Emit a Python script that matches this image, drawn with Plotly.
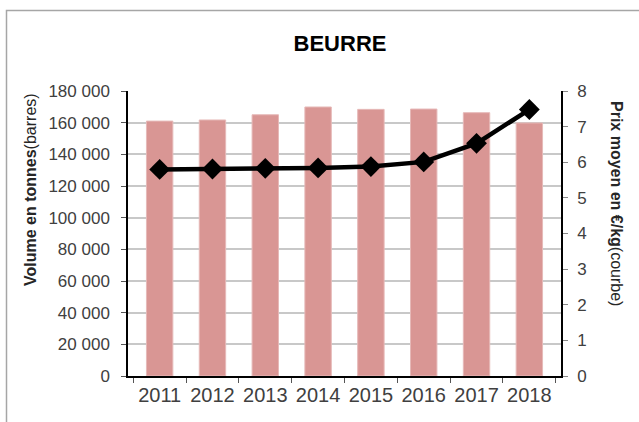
import plotly.graph_objects as go

years = ["2011", "2012", "2013", "2014", "2015", "2016", "2017", "2018"]
volume_tonnes = [161000, 161700, 165000, 169900, 168400, 168600, 166300, 159800]
prix_eur_kg = [5.80, 5.81, 5.83, 5.84, 5.88, 6.01, 6.53, 7.48]
y1_ticks = [0, 20000, 40000, 60000, 80000, 100000, 120000, 140000, 160000, 180000]
y1_labels = ["0", "20 000", "40 000", "60 000", "80 000", "100 000", "120 000", "140 000", "160 000", "180 000"]
y2_ticks = [0, 1, 2, 3, 4, 5, 6, 7, 8]

W, H = 639, 422
L, R, T, B = 128, 78, 91, 46
PW, PH = W - L - R, H - T - B

def px_x(p):
    return (p - L) / PW

def px_y(p):
    return (H - B - p) / PH

FONT = "Liberation Sans, Arial, sans-serif"

fig = go.Figure()
fig.add_trace(go.Bar(
    x=years, y=volume_tonnes, yaxis="y",
    marker=dict(color="#d99694", line=dict(color="#e6b9b8", width=1)),
    hoverinfo="x+y",
))
fig.add_trace(go.Scatter(
    x=years, y=prix_eur_kg, yaxis="y2", mode="lines+markers",
    line=dict(color="black", width=4.5),
    marker=dict(symbol="diamond", size=16, color="black"),
))

fig.update_layout(
    width=W, height=H,
    margin=dict(l=L, r=R, t=T, b=B, autoexpand=False),
    paper_bgcolor="white", plot_bgcolor="white",
    showlegend=False,
    bargap=0.5,
    font=dict(family=FONT, color="#404040"),
    title=dict(text="<b>BEURRE</b>", x=340 / W, xanchor="center", xref="container",
               y=1 - 43 / H, yanchor="middle", yref="container",
               font=dict(family=FONT, size=22, color="black")),
    xaxis=dict(
        showline=True, linecolor="black", linewidth=1.5,
        ticks="outside", ticklen=5, tickcolor="#555", tickson="boundaries",
        tickfont=dict(size=20, color="#404040"), tickangle=0,
        showgrid=False, automargin=False,
    ),
    yaxis=dict(
        range=[0, 180000], tickvals=y1_ticks, ticktext=y1_labels,
        showline=True, linecolor="black", linewidth=1.5,
        ticks="outside", ticklen=5, tickcolor="#555",
        tickfont=dict(size=17, color="#404040"),
        showgrid=True, gridcolor="#c8c8c8", gridwidth=1.5,
        zeroline=False, ticklabelstandoff=8, automargin=False,
    ),
    yaxis2=dict(
        range=[0, 8], tickvals=y2_ticks, overlaying="y", side="right",
        showline=True, linecolor="black", linewidth=1.5,
        ticks="outside", ticklen=5, tickcolor="#888",
        tickfont=dict(size=17, color="#404040"),
        showgrid=False, zeroline=False, ticklabelstandoff=6, automargin=False,
    ),
    annotations=[
        dict(text="<b>Volume en tonnes</b>(barres)", x=px_x(30), y=px_y(190),
             xref="paper", yref="paper", textangle=-90, showarrow=False,
             xanchor="center", yanchor="middle",
             font=dict(family=FONT, size=16, color="#262626")),
        dict(text="<b>Prix moyen en €/kg</b>(courbe)", x=px_x(617), y=px_y(203),
             xref="paper", yref="paper", textangle=90, showarrow=False,
             xanchor="center", yanchor="middle",
             font=dict(family=FONT, size=16, color="#262626")),
    ],
    shapes=[
        dict(type="rect", xref="paper", yref="paper",
             x0=px_x(6.5), x1=px_x(700), y0=px_y(500), y1=px_y(10.5),
             line=dict(color="#a6a6a6", width=1.5), layer="below"),
    ],
)

fig.write_html("out.html", config={"displayModeBar": False},
               post_script="document.body.style.margin='0';document.body.style.overflow='hidden';")
